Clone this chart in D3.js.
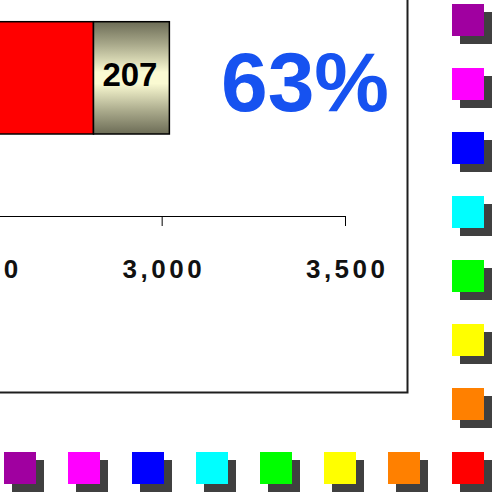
<!DOCTYPE html>
<html>
<head>
<meta charset="utf-8">
<script src="https://cdn.jsdelivr.net/npm/d3@7"></script>
<style>
  html, body { margin: 0; padding: 0; background: #fff; }
  svg { display: block; }
</style>
</head>
<body>
<svg id="chart" width="494" height="494"></svg>
<script>
'use strict';

// data
const categories = ["Total"];
const segmentNames = ["Main", "Other"];
const segmentValues = [2814, 207];
const segmentLabels = ["", "207"];
const tickValues = [0, 500, 1000, 1500, 2000, 2500, 3000, 3500];
const percentText = "63%";
const swatchColors = ["#a000a0", "#ff00ff", "#0000ff", "#00ffff", "#00ff00", "#ffff00", "#ff8000", "#ff0000"];

const svg = d3.select("#chart");
const ARIAL = "'Liberation Sans', Arial, Helvetica, sans-serif";

// gradient for the second segment (olive bands, pale in the middle)
const defs = svg.append("defs");
const grad = defs.append("linearGradient")
    .attr("id", "olive")
    .attr("x1", 0).attr("y1", 0).attr("x2", 0).attr("y2", 1);
[[0, "#6c6c56"], [0.2, "#a8a88a"], [0.45, "#fafad2"], [0.55, "#fafad2"], [0.8, "#a8a88a"], [1, "#6c6c56"]]
    .forEach(s => grad.append("stop").attr("offset", s[0]).attr("stop-color", s[1]));

// the plot frame (only its right and bottom edges fall inside the window)
svg.append("rect")
    .attr("x", -600).attr("y", -200)
    .attr("width", 1007.5).attr("height", 592.5)
    .attr("fill", "none")
    .attr("stroke", "#1e1e1e")
    .attr("stroke-width", 2);

// scales: the window shows only the right end of the axis
const x = d3.scaleLinear().domain([0, 3500]).range([-938.3, 345]);
const y = d3.scaleBand().domain(categories).range([21.7, 134]);

// stack the segments
let acc = 0;
const segs = segmentValues.map((v, i) => {
    const s = { name: segmentNames[i], x0: acc, x1: acc + v, label: segmentLabels[i] };
    acc += v;
    return s;
});

const bar = svg.append("g");
bar.selectAll("rect")
    .data(segs)
    .enter()
    .append("rect")
        .attr("x", d => x(d.x0))
        .attr("y", y(categories[0]))
        .attr("width", d => x(d.x1) - x(d.x0))
        .attr("height", y.bandwidth())
        .attr("fill", (d, i) => i === 0 ? "#ff0000" : "url(#olive)")
        .attr("stroke", "#000")
        .attr("stroke-width", 1.5);

bar.selectAll("text")
    .data(segs.filter(d => d.label))
    .enter()
    .append("text")
        .attr("x", d => (x(d.x0) + x(d.x1)) / 2 - 1.5)
        .attr("y", y(categories[0]) + y.bandwidth() / 2)
        .attr("dy", "0.25em")
        .attr("text-anchor", "middle")
        .style("font-family", ARIAL)
        .style("font-weight", "bold")
        .style("font-size", "33px")
        .attr("fill", "#000")
        .text(d => d.label);

// x axis (most of it lies left of the window)
const axis = svg.append("g")
    .attr("transform", "translate(0,216)")
    .call(d3.axisBottom(x)
        .tickValues(tickValues)
        .tickSize(10)
        .tickSizeOuter(0)
        .tickFormat(d3.format(",")));
axis.select(".domain").attr("stroke", "#000");
axis.selectAll(".tick line").attr("stroke", "#000");
axis.selectAll(".tick text")
    .attr("y", 62)
    .attr("dy", null)
    .attr("dx", 1.7)
    .style("font-family", ARIAL)
    .style("font-weight", "bold")
    .style("font-size", "26px")
    .style("letter-spacing", "3.5px")
    .attr("fill", "#111");

// big percentage
svg.append("text")
    .attr("x", 305)
    .attr("y", 110.7)
    .attr("text-anchor", "middle")
    .style("font-family", ARIAL)
    .style("font-weight", "bold")
    .style("font-size", "84px")
    .attr("fill", "#1652f0")
    .text(percentText);

// decorative swatches along the right and bottom edges
const pos = d3.scaleLinear().domain([0, swatchColors.length - 1]).range([4, 452]);
const size = 32, off = 8;
const swatches = [];
swatchColors.forEach((c, i) => {
    swatches.push({ x: 452, y: pos(i), color: c });
    if (i < swatchColors.length - 1) swatches.push({ x: pos(i), y: 452, color: c });
});

const sw = svg.append("g");
sw.selectAll("rect.shadow")
    .data(swatches)
    .enter()
    .append("rect")
        .attr("class", "shadow")
        .attr("x", d => d.x + off)
        .attr("y", d => d.y + off)
        .attr("width", size).attr("height", size)
        .attr("fill", "#404040");
sw.selectAll("rect.box")
    .data(swatches)
    .enter()
    .append("rect")
        .attr("class", "box")
        .attr("x", d => d.x)
        .attr("y", d => d.y)
        .attr("width", size).attr("height", size)
        .attr("fill", d => d.color);
</script>
</body>
</html>
